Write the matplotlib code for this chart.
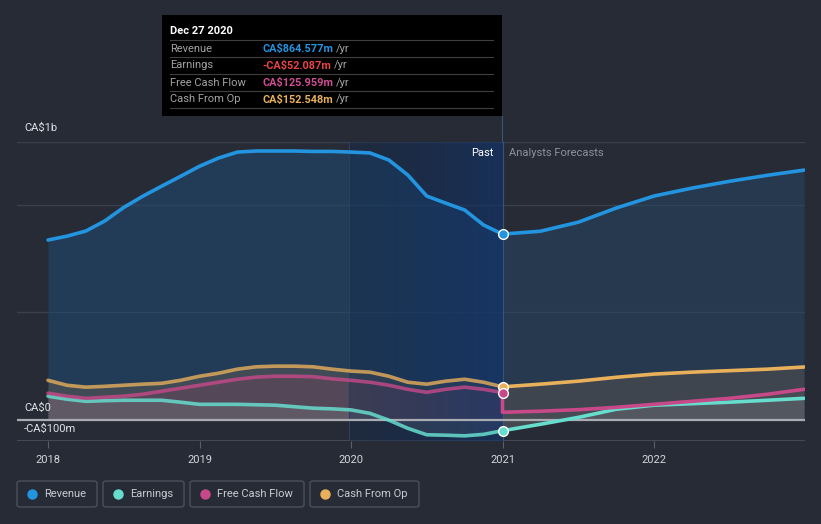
import numpy as np
import matplotlib
matplotlib.use("Agg")
import matplotlib.pyplot as plt
from matplotlib.patches import FancyBboxPatch, Rectangle
from matplotlib.lines import Line2D

plt.rcParams['font.family'] = ['Roboto', 'DejaVu Sans']

# ---------------- data (CA$ millions) ----------------
past_x = [2018.0, 2018.125, 2018.25, 2018.375, 2018.5, 2018.625, 2018.75, 2018.875,
          2019.0, 2019.125, 2019.25, 2019.375, 2019.5, 2019.625, 2019.75, 2019.875,
          2020.0, 2020.125, 2020.25, 2020.375, 2020.5, 2020.625, 2020.75, 2020.875, 2021.0]
fc_x = [2021.0, 2021.25, 2021.5, 2021.75, 2022.0, 2022.25, 2022.5, 2022.75, 2022.99]

revenue_past = [837, 855, 879, 926, 989, 1041, 1088, 1134, 1181, 1219, 1247, 1252, 1252,
                1252, 1250, 1250, 1247, 1243, 1210, 1140, 1042, 1009, 977, 907, 864.6]
revenue_fc = [864.6, 878, 920, 986, 1042, 1079, 1111, 1139, 1163]

earnings_past = [109, 95, 85, 88, 90, 90, 90, 81, 71, 71, 71, 69, 67, 60, 53, 50,
                 45, 29, -3, -41, -71, -73, -76, -69, -52.1]
earnings_fc = [-52.1, -22, 10, 48, 67, 74, 81, 90, 99]

fcf_past = [123, 109, 99, 104, 109, 118, 132, 146, 160, 174, 188, 198, 202, 202, 200,
            190, 183, 174, 160, 141, 127, 141, 151, 141, 126.0]
fcf_fc = [34, 39, 46, 57, 71, 85, 99, 118, 141]

cfo_past = [183, 160, 151, 155, 160, 165, 169, 183, 202, 216, 235, 246, 249, 249, 246,
            235, 226, 221, 202, 174, 165, 179, 188, 174, 152.5]
cfo_fc = [152.5, 165, 179, 197, 212, 221, 228, 235, 245]

year_ticks = [2018, 2019, 2020, 2021, 2022]
tooltip_date = "Dec 27 2020"
tooltip_rows = [("Revenue", "CA$864.577m"), ("Earnings", "-CA$52.087m"),
                ("Free Cash Flow", "CA$125.959m"), ("Cash From Op", "CA$152.548m")]
legend_names = ["Revenue", "Earnings", "Free Cash Flow", "Cash From Op"]

# ---------------- style ----------------
BG = '#262b36'
C_REV = '#2394df'
C_EARN = '#67ddce'
C_FCF = '#c8498a'
C_CFO = '#e9b05c'
TOOLTIP_COLORS = [C_REV, '#e84545', '#cf4d93', C_CFO]

W, H = 821, 524
fig = plt.figure(figsize=(W / 100, H / 100), dpi=100, facecolor=BG)

def fx(px):
    return px / W

def fy(py):
    return 1 - py / H

ax = fig.add_axes([fx(17), fy(441), (805 - 17) / W, (441 - 142) / H])
ax.set_facecolor(BG)
x0 = 2018 + (17 - 48) / 151.5
x1 = 2018 + (805 - 48) / 151.5
ax.set_xlim(x0, x1)
ax.set_ylim(-100, 1294)
for s in ax.spines.values():
    s.set_visible(False)

# grid lines
for yv in [500, 1000, 1294]:
    ax.axhline(yv, color='#3a404c', lw=1, zorder=0.5)
ax.axhline(-100, color='#4a505c', lw=1.2, zorder=0.5)

# fills
ax.fill_between(past_x, 0, revenue_past, color='#1f4a72', alpha=0.55, lw=0, zorder=1)
ax.fill_between(fc_x, 0, revenue_fc, color='#264866', alpha=0.5, lw=0, zorder=1)
ax.fill_between(past_x, 0, cfo_past, color='#5a5a55', alpha=0.55, lw=0, zorder=2)
ax.fill_between(fc_x, 0, cfo_fc, color='#4a4b4e', alpha=0.7, lw=0, zorder=2)
ax.fill_between(past_x, 0, fcf_past, color='#7a4060', alpha=0.35, lw=0, zorder=2.2)
ax.fill_between(fc_x, 0, fcf_fc, color='#505258', alpha=0.5, lw=0, zorder=2.2)
ax.fill_between(past_x, 0, earnings_past, color='#6b7075', alpha=0.45, lw=0, zorder=2.4)
ax.fill_between(fc_x, 0, earnings_fc, color='#60666d', alpha=0.5, lw=0, zorder=2.4)

# past highlight gradient (2020 -> 2021)
grad = np.zeros((2, 256, 4))
t = np.linspace(0, 1, 256)
grad[:, :, 0] = 0.07
grad[:, :, 1] = 0.16 + 0.04 * t
grad[:, :, 2] = 0.30 + 0.12 * t
grad[:, :, 3] = 0.35 + 0.30 * t
ax.imshow(grad, extent=[2019.985, 2021.0, -100, 1294], aspect='auto', zorder=3,
          interpolation='bilinear')
ax.axvline(2019.985, color='#2c3f5e', lw=0.8, zorder=3.1)
ax.axvline(2021.0, color='#3a5478', lw=0.8, zorder=3.1)

# zero line
ax.axhline(0, color='#a9acb3', lw=1.6, zorder=4)

# lines
lw = 2.6
kw = dict(solid_capstyle='round', solid_joinstyle='round')
ax.plot(past_x, revenue_past, color=C_REV, lw=lw, zorder=6, **kw)
ax.plot(fc_x, revenue_fc, color=C_REV, lw=lw, zorder=6, **kw)
ax.plot(past_x, cfo_past, color=C_CFO, lw=lw, zorder=5.5, alpha=0.8, **kw)
ax.plot(fc_x, cfo_fc, color=C_CFO, lw=lw, zorder=5.5, **kw)
ax.plot(past_x, fcf_past, color=C_FCF, lw=lw, zorder=5.4, alpha=0.8, **kw)
ax.plot([past_x[-1]] + fc_x, [fcf_past[-1]] + fcf_fc, color=C_FCF, lw=lw, zorder=5.4, **kw)
ax.plot(past_x, earnings_past, color=C_EARN, lw=lw, zorder=5.3, alpha=0.85, **kw)
ax.plot(fc_x, earnings_fc, color=C_EARN, lw=lw, zorder=5.3, **kw)

# markers at current point
for val, col in [(revenue_past[-1], C_REV), (cfo_past[-1], C_CFO),
                 (fcf_past[-1], C_FCF), (earnings_past[-1], C_EARN)]:
    ax.plot([past_x[-1]], [val], 'o', ms=7, mfc=col, mec='white', mew=1.0, zorder=8)

# x ticks
ax.set_xticks(year_ticks)
ax.set_xticklabels([str(y) for y in year_ticks], color='#d4d6da', fontsize=8)
ax.tick_params(axis='x', length=5, color='#5a606b', pad=5, direction='out')
ax.set_yticks([])

# past / forecast labels
fig.text(fx(493), fy(153), "Past", color='white', fontsize=8, ha='right', va='center')
fig.text(fx(509), fy(153), "Analysts Forecasts", color='#8d929b', fontsize=8,
         ha='left', va='center')

# y labels
fig.text(fx(24), fy(128), "CA$1b", color='#e0e2e6', fontsize=8, va='center')
fig.text(fx(24), fy(408), "CA$0", color='#e0e2e6', fontsize=8, va='center')
fig.text(fx(24), fy(429), "-CA$100m", color='#e0e2e6', fontsize=8, va='center')

# tooltip
fig.patches.append(Rectangle((fx(162), fy(116)), fx(502) - fx(162), fy(15) - fy(116),
                             transform=fig.transFigure, facecolor='black',
                             edgecolor='none', zorder=10))
fig.add_artist(Line2D([fx(502), fx(502)], [fy(116), fy(142)], color='#3a5478', lw=0.8,
                      transform=fig.transFigure))
fig.text(fx(170), fy(31), tooltip_date, color='white', fontsize=8, fontweight='bold',
         va='center', zorder=11)
for i, (lab, val) in enumerate(tooltip_rows):
    yline = 40 + 17 * i
    fig.add_artist(Line2D([fx(170), fx(493)], [fy(yline), fy(yline)], color='#3f3f3f',
                          lw=0.8, transform=fig.transFigure, zorder=11))
    yc = yline + 8.5
    fig.text(fx(170), fy(yc), lab, color='#a3a3a3', fontsize=8, va='center', zorder=11)
    t_val = fig.text(fx(262), fy(yc), val, color=TOOLTIP_COLORS[i], fontsize=7.8,
                     fontweight='bold', va='center', zorder=11)
    fig.add_artist(matplotlib.text.Annotation('/yr', xy=(1, 0.5), xycoords=t_val,
                                              xytext=(2, 0), textcoords='offset points',
                                              color='#a3a3a3', fontsize=8, va='center',
                                              ha='left', zorder=11))
fig.add_artist(Line2D([fx(170), fx(493)], [fy(108), fy(108)], color='#3f3f3f', lw=0.8,
                      transform=fig.transFigure, zorder=11))

# legend
boxes = [(17, 97), (103, 184), (190, 304), (310, 419)]
leg_cols = [C_REV, C_EARN, C_FCF, C_CFO]
for (bx0, bx1), name, col in zip(boxes, legend_names, leg_cols):
    fig.patches.append(FancyBboxPatch((fx(bx0), fy(507)), fx(bx1) - fx(bx0), fy(481) - fy(507),
                                      boxstyle='round,pad=0,rounding_size=0.004',
                                      transform=fig.transFigure, facecolor='none',
                                      edgecolor='#4b515c', lw=1))
    fig.add_artist(Line2D([fx(bx0 + 15)], [fy(494)], marker='o', ms=6.5, color=col,
                          mec=col, transform=fig.transFigure))
    fig.text(fx(bx0 + 27), fy(494), name, color='#c9ccd1', fontsize=8, va='center')

fig.savefig('out.png', dpi=100, facecolor=BG)
